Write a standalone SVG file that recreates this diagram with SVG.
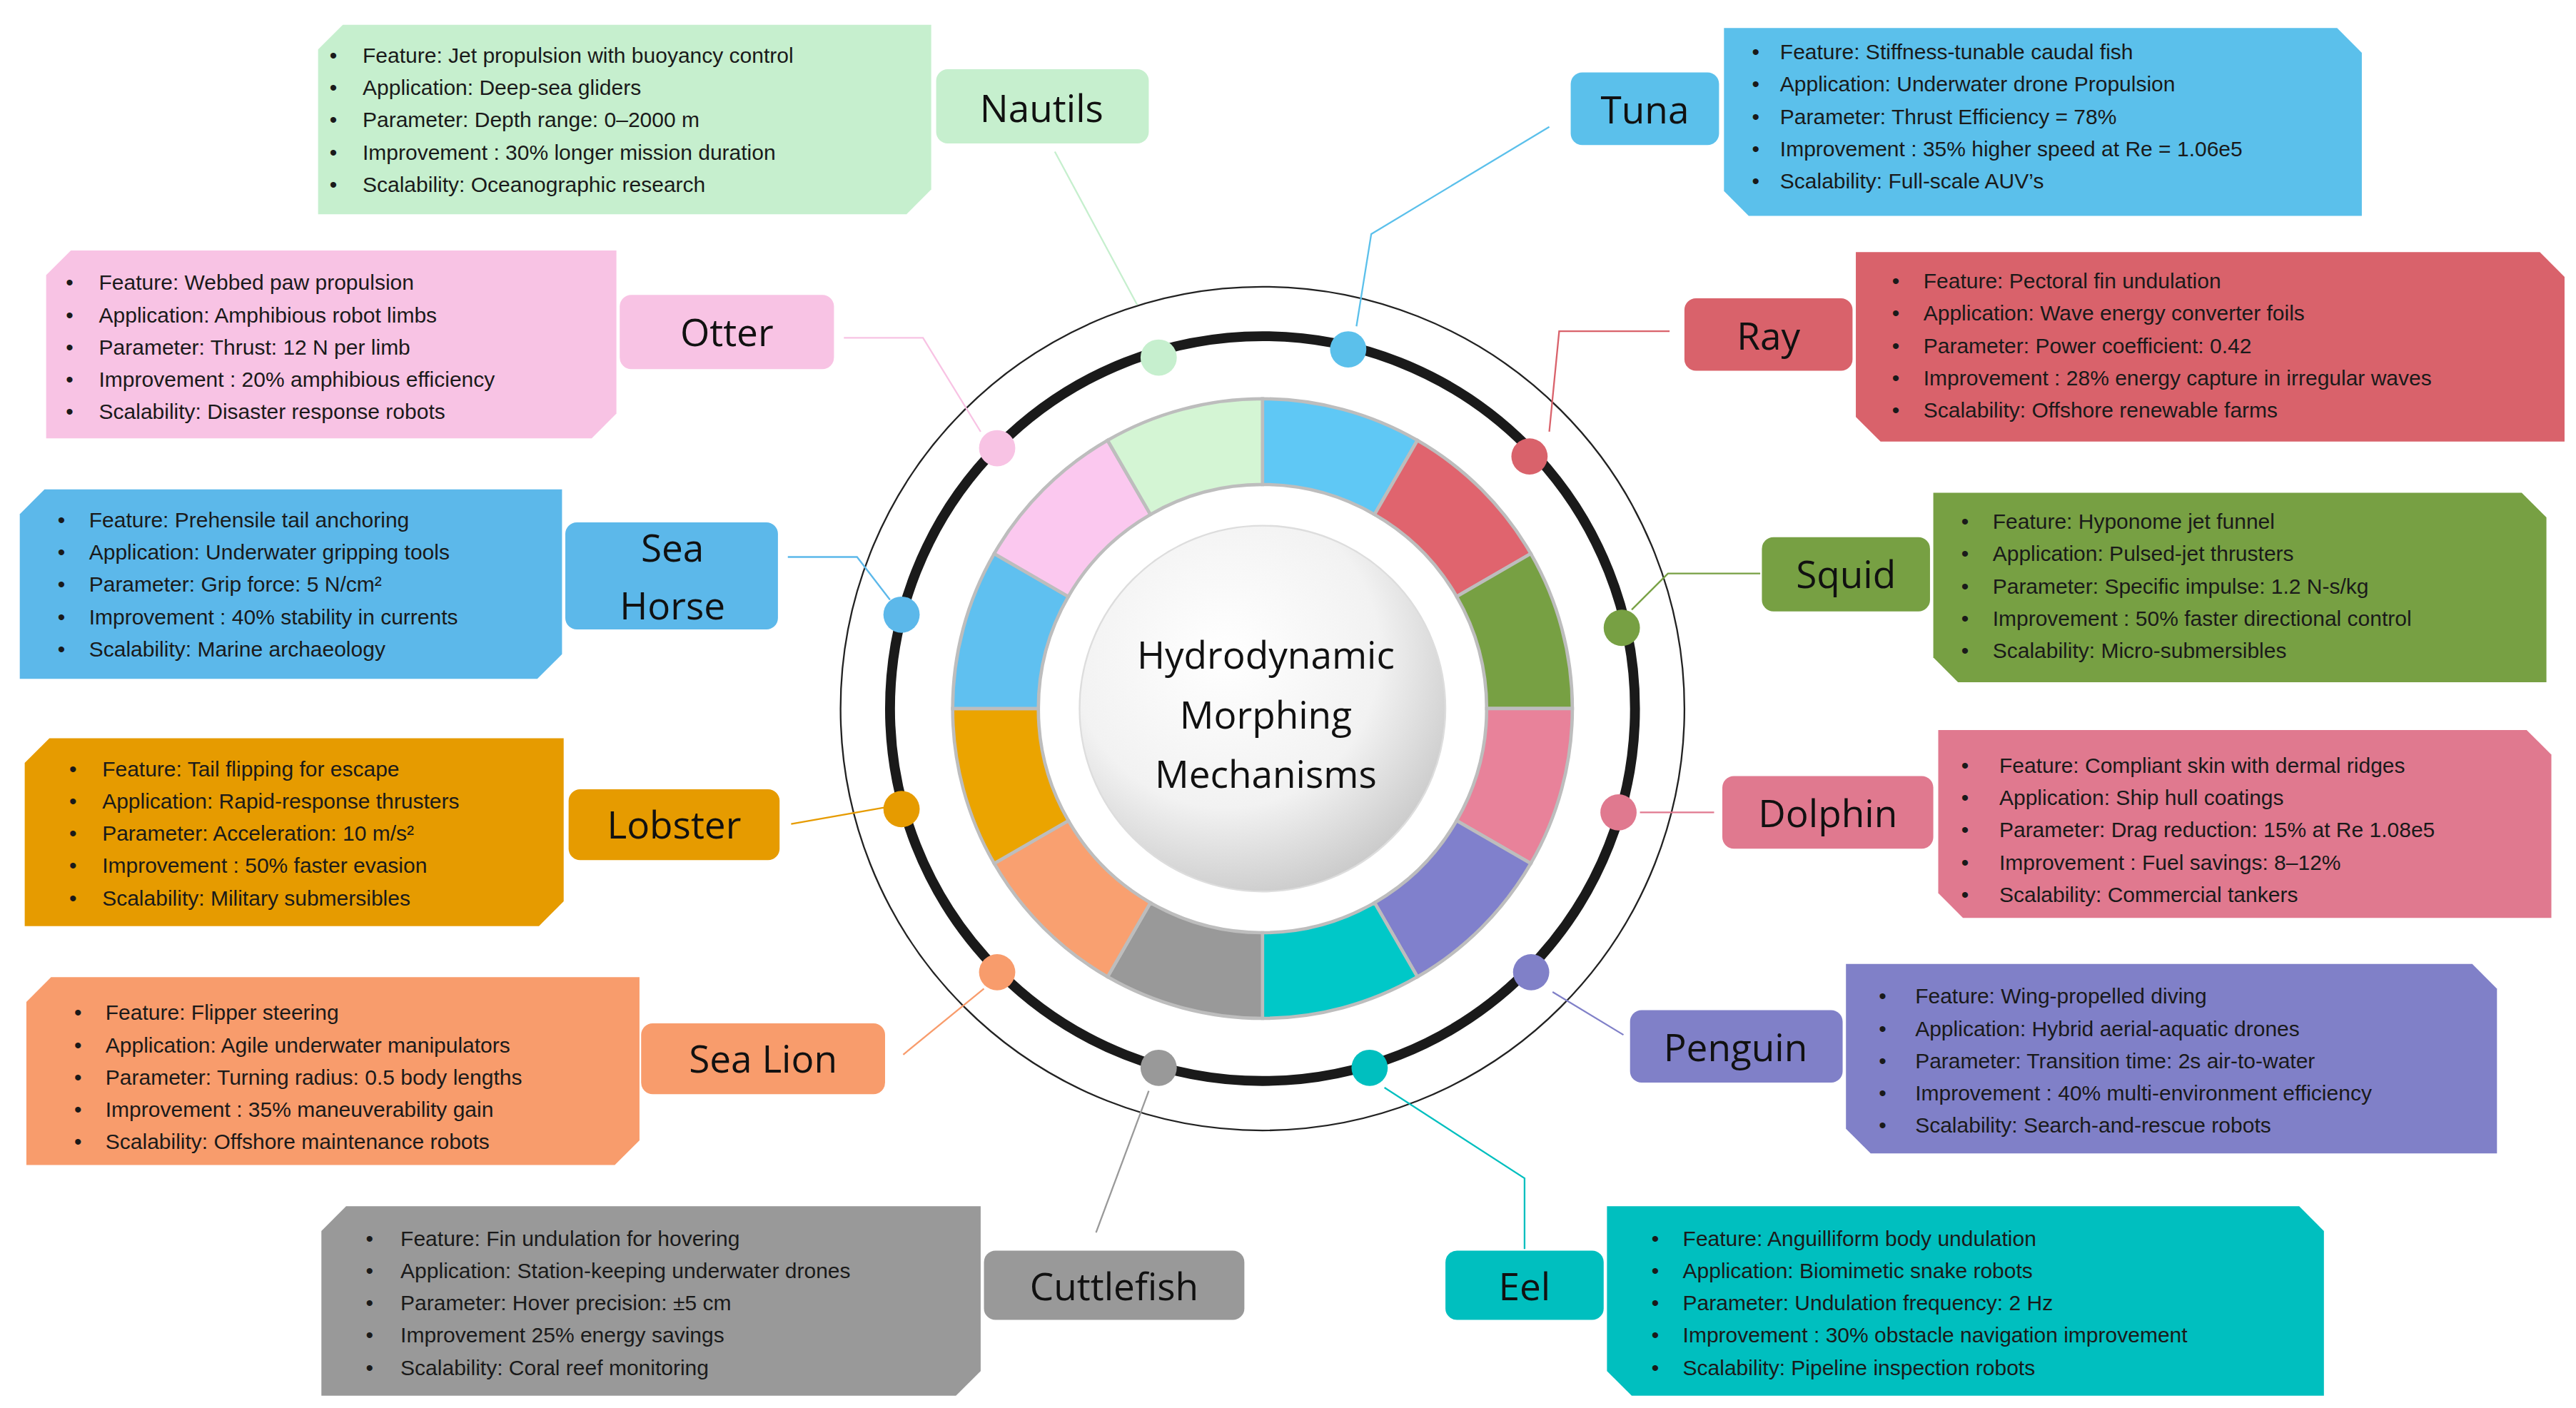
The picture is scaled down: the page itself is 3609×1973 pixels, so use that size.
<svg xmlns="http://www.w3.org/2000/svg" width="3609" height="1973" viewBox="0 0 3609 1973">
<style>
.t{font-family:"Liberation Sans",Arial,sans-serif;font-size:13px;fill:#1a1a1a}
.l{font-family:"Open Sans","Liberation Sans",sans-serif;font-size:23px;fill:#111;text-anchor:middle}
.c{font-family:"Open Sans","Liberation Sans",sans-serif;font-size:23px;fill:#111;text-anchor:middle}
.cn{fill:none;stroke-width:1}
.sg{stroke:#bdbdbd;stroke-width:2}
</style>
<defs>
<radialGradient id="cg" cx="0.4" cy="0.35" r="0.7"><stop offset="0" stop-color="#fff"/><stop offset="0.6" stop-color="#f2f2f2"/><stop offset="1" stop-color="#c8c8c8"/></radialGradient>
</defs>
<rect width="3609" height="1973" fill="#fff"/>
<g transform="scale(2.3091)">
<g id="ring">
<circle cx="766" cy="430" r="256" fill="none" stroke="#222" stroke-width="1"/>
<circle cx="766" cy="430" r="226" fill="none" stroke="#1a1a1a" stroke-width="6"/>
<path class="sg" fill="#5fc8f5" d="M766,242 A188,188 0 0 1 860,267.2 L834,312.2 A136,136 0 0 0 766,294Z"/>
<path class="sg" fill="#e0646e" d="M860,267.2 A188,188 0 0 1 928.8,336 L883.8,362 A136,136 0 0 0 834,312.2Z"/>
<path class="sg" fill="#77a043" d="M928.8,336 A188,188 0 0 1 954,430 L902,430 A136,136 0 0 0 883.8,362Z"/>
<path class="sg" fill="#e8829a" d="M954,430 A188,188 0 0 1 928.8,524 L883.8,498 A136,136 0 0 0 902,430Z"/>
<path class="sg" fill="#8080cc" d="M928.8,524 A188,188 0 0 1 860,592.8 L834,547.8 A136,136 0 0 0 883.8,498Z"/>
<path class="sg" fill="#00c8c8" d="M860,592.8 A188,188 0 0 1 766,618 L766,566 A136,136 0 0 0 834,547.8Z"/>
<path class="sg" fill="#999" d="M766,618 A188,188 0 0 1 672,592.8 L698,547.8 A136,136 0 0 0 766,566Z"/>
<path class="sg" fill="#f9a070" d="M672,592.8 A188,188 0 0 1 603.2,524 L648.2,498 A136,136 0 0 0 698,547.8Z"/>
<path class="sg" fill="#eba400" d="M603.2,524 A188,188 0 0 1 578,430 L630,430 A136,136 0 0 0 648.2,498Z"/>
<path class="sg" fill="#5fc0f0" d="M578,430 A188,188 0 0 1 603.2,336 L648.2,362 A136,136 0 0 0 630,430Z"/>
<path class="sg" fill="#fbc8ef" d="M603.2,336 A188,188 0 0 1 672,267.2 L698,312.2 A136,136 0 0 0 648.2,362Z"/>
<path class="sg" fill="#d4f5d4" d="M672,267.2 A188,188 0 0 1 766,242 L766,294 A136,136 0 0 0 698,312.2Z"/>
<circle cx="766" cy="430" r="111" fill="url(#cg)" stroke="#ddd" stroke-width="1"/>
<text class="c" x="768" y="406">Hydrodynamic</text>
<text class="c" x="768" y="442">Morphing</text>
<text class="c" x="768" y="478">Mechanisms</text>
</g>
<g id="connectors">
<polyline class="cn" stroke="#c6efce" points="640,92 690,185"/>
<polyline class="cn" stroke="#5bc0eb" points="940,77 832,142 823,198"/>
<polyline class="cn" stroke="#f8c3e4" points="512,205 560,205 595,262"/>
<polyline class="cn" stroke="#d9626b" points="1013,201 946,201 940,262"/>
<polyline class="cn" stroke="#5cb8ea" points="478,338 520,338 540,364"/>
<polyline class="cn" stroke="#77a043" points="1068,348 1012,348 990,370"/>
<polyline class="cn" stroke="#e69b00" points="480,500 537,490"/>
<polyline class="cn" stroke="#e0798f" points="1040,493 995,493"/>
<polyline class="cn" stroke="#f89c6c" points="548,640 597,600"/>
<polyline class="cn" stroke="#8080c8" points="985,628 942,602"/>
<polyline class="cn" stroke="#999" points="665,748 697,662"/>
<polyline class="cn" stroke="#00bfbf" points="925,758 925,715 840,660"/>
</g>
<g id="dots">
<circle cx="703" cy="217" r="11" fill="#c6efce"/>
<circle cx="818" cy="212" r="11" fill="#5bc0eb"/>
<circle cx="928" cy="277" r="11" fill="#d9626b"/>
<circle cx="984" cy="381" r="11" fill="#77a043"/>
<circle cx="982" cy="493" r="11" fill="#e0798f"/>
<circle cx="929" cy="590" r="11" fill="#8080c8"/>
<circle cx="831" cy="648" r="11" fill="#00bfbf"/>
<circle cx="703" cy="648" r="11" fill="#999"/>
<circle cx="605" cy="590" r="11" fill="#f89c6c"/>
<circle cx="547" cy="491" r="11" fill="#e69b00"/>
<circle cx="547" cy="373" r="11" fill="#5cb8ea"/>
<circle cx="605" cy="272" r="11" fill="#f8c3e4"/>
</g>
<g id="nautilus">
<path fill="#c6efce" d="M208,15 H565 V115 L550,130 H193 V30Z"/>
<rect x="568" y="42" width="129" height="45" rx="7" fill="#c6efce"/>
<text class="l" x="632" y="74">Nautils</text>
<text class="t"><tspan x="200" y="38">•</tspan><tspan x="200" dy="19.6">•</tspan><tspan x="200" dy="19.6">•</tspan><tspan x="200" dy="19.6">•</tspan><tspan x="200" dy="19.6">•</tspan></text>
<text class="t"><tspan x="220" y="38">Feature: Jet propulsion with buoyancy control</tspan><tspan x="220" dy="19.6">Application: Deep-sea gliders</tspan><tspan x="220" dy="19.6">Parameter: Depth range: 0–2000 m</tspan><tspan x="220" dy="19.6">Improvement : 30% longer mission duration</tspan><tspan x="220" dy="19.6">Scalability: Oceanographic research</tspan></text>
</g>
<g id="tuna">
<path fill="#5bc0eb" d="M1046,17 H1418 L1433,32 V131 H1061 L1046,116Z"/>
<rect x="953" y="44" width="90" height="44" rx="7" fill="#5bc0eb"/>
<text class="l" x="998" y="75">Tuna</text>
<text class="t"><tspan x="1063" y="36">•</tspan><tspan x="1063" dy="19.6">•</tspan><tspan x="1063" dy="19.6">•</tspan><tspan x="1063" dy="19.6">•</tspan><tspan x="1063" dy="19.6">•</tspan></text>
<text class="t"><tspan x="1080" y="36">Feature: Stiffness-tunable caudal fish</tspan><tspan x="1080" dy="19.6">Application: Underwater drone Propulsion</tspan><tspan x="1080" dy="19.6">Parameter: Thrust Efficiency = 78%</tspan><tspan x="1080" dy="19.6">Improvement : 35% higher speed at Re = 1.06e5</tspan><tspan x="1080" dy="19.6">Scalability: Full-scale AUV’s</tspan></text>
</g>
<g id="otter">
<path fill="#f8c3e4" d="M43,152 H374 V251 L359,266 H28 V167Z"/>
<rect x="376" y="179" width="130" height="45" rx="7" fill="#f8c3e4"/>
<text class="l" x="441" y="210">Otter</text>
<text class="t"><tspan x="40" y="176">•</tspan><tspan x="40" dy="19.6">•</tspan><tspan x="40" dy="19.6">•</tspan><tspan x="40" dy="19.6">•</tspan><tspan x="40" dy="19.6">•</tspan></text>
<text class="t"><tspan x="60" y="176">Feature: Webbed paw propulsion</tspan><tspan x="60" dy="19.6">Application: Amphibious robot limbs</tspan><tspan x="60" dy="19.6">Parameter: Thrust: 12 N per limb</tspan><tspan x="60" dy="19.6">Improvement : 20% amphibious efficiency</tspan><tspan x="60" dy="19.6">Scalability: Disaster response robots</tspan></text>
</g>
<g id="ray">
<path fill="#d9626b" d="M1126,153 H1541 L1556,168 V268 H1141 L1126,253Z"/>
<rect x="1022" y="181" width="102" height="44" rx="7" fill="#d9626b"/>
<text class="l" x="1073" y="212">Ray</text>
<text class="t"><tspan x="1148" y="175">•</tspan><tspan x="1148" dy="19.6">•</tspan><tspan x="1148" dy="19.6">•</tspan><tspan x="1148" dy="19.6">•</tspan><tspan x="1148" dy="19.6">•</tspan></text>
<text class="t"><tspan x="1167" y="175">Feature: Pectoral fin undulation</tspan><tspan x="1167" dy="19.6">Application: Wave energy converter foils</tspan><tspan x="1167" dy="19.6">Parameter: Power coefficient: 0.42</tspan><tspan x="1167" dy="19.6">Improvement : 28% energy capture in irregular waves</tspan><tspan x="1167" dy="19.6">Scalability: Offshore renewable farms</tspan></text>
</g>
<g id="seahorse">
<path fill="#5cb8ea" d="M27,297 H341 V397 L326,412 H12 V312Z"/>
<rect x="343" y="317" width="129" height="65" rx="7" fill="#5cb8ea"/>
<text class="l" x="408" y="341">Sea</text>
<text class="l" x="408" y="376">Horse</text>
<text class="t"><tspan x="35" y="320">•</tspan><tspan x="35" dy="19.6">•</tspan><tspan x="35" dy="19.6">•</tspan><tspan x="35" dy="19.6">•</tspan><tspan x="35" dy="19.6">•</tspan></text>
<text class="t"><tspan x="54" y="320">Feature: Prehensile tail anchoring</tspan><tspan x="54" dy="19.6">Application: Underwater gripping tools</tspan><tspan x="54" dy="19.6">Parameter: Grip force: 5 N/cm²</tspan><tspan x="54" dy="19.6">Improvement : 40% stability in currents</tspan><tspan x="54" dy="19.6">Scalability: Marine archaeology</tspan></text>
</g>
<g id="squid">
<path fill="#77a043" d="M1173,299 H1530 L1545,314 V414 H1188 L1173,399Z"/>
<rect x="1069" y="326" width="102" height="45" rx="7" fill="#77a043"/>
<text class="l" x="1120" y="357">Squid</text>
<text class="t"><tspan x="1190" y="321">•</tspan><tspan x="1190" dy="19.6">•</tspan><tspan x="1190" dy="19.6">•</tspan><tspan x="1190" dy="19.6">•</tspan><tspan x="1190" dy="19.6">•</tspan></text>
<text class="t"><tspan x="1209" y="321">Feature: Hyponome jet funnel</tspan><tspan x="1209" dy="19.6">Application: Pulsed-jet thrusters</tspan><tspan x="1209" dy="19.6">Parameter: Specific impulse: 1.2 N-s/kg</tspan><tspan x="1209" dy="19.6">Improvement : 50% faster directional control</tspan><tspan x="1209" dy="19.6">Scalability: Micro-submersibles</tspan></text>
</g>
<g id="lobster">
<path fill="#e69b00" d="M30,448 H342 V547 L327,562 H15 V463Z"/>
<rect x="345" y="479" width="128" height="43" rx="7" fill="#e69b00"/>
<text class="l" x="409" y="509">Lobster</text>
<text class="t"><tspan x="42" y="471">•</tspan><tspan x="42" dy="19.6">•</tspan><tspan x="42" dy="19.6">•</tspan><tspan x="42" dy="19.6">•</tspan><tspan x="42" dy="19.6">•</tspan></text>
<text class="t"><tspan x="62" y="471">Feature: Tail flipping for escape</tspan><tspan x="62" dy="19.6">Application: Rapid-response thrusters</tspan><tspan x="62" dy="19.6">Parameter: Acceleration: 10 m/s²</tspan><tspan x="62" dy="19.6">Improvement : 50% faster evasion</tspan><tspan x="62" dy="19.6">Scalability: Military submersibles</tspan></text>
</g>
<g id="dolphin">
<path fill="#e0798f" d="M1176,443 H1533 L1548,458 V557 H1191 L1176,542Z"/>
<rect x="1045" y="471" width="128" height="44" rx="7" fill="#e0798f"/>
<text class="l" x="1109" y="502">Dolphin</text>
<text class="t"><tspan x="1190" y="469">•</tspan><tspan x="1190" dy="19.6">•</tspan><tspan x="1190" dy="19.6">•</tspan><tspan x="1190" dy="19.6">•</tspan><tspan x="1190" dy="19.6">•</tspan></text>
<text class="t"><tspan x="1213" y="469">Feature: Compliant skin with dermal ridges</tspan><tspan x="1213" dy="19.6">Application: Ship hull coatings</tspan><tspan x="1213" dy="19.6">Parameter: Drag reduction: 15% at Re 1.08e5</tspan><tspan x="1213" dy="19.6">Improvement : Fuel savings: 8–12%</tspan><tspan x="1213" dy="19.6">Scalability: Commercial tankers</tspan></text>
</g>
<g id="sealion">
<path fill="#f89c6c" d="M31,593 H388 V692 L373,707 H16 V608Z"/>
<rect x="389" y="621" width="148" height="43" rx="7" fill="#f89c6c"/>
<text class="l" x="463" y="651">Sea Lion</text>
<text class="t"><tspan x="45" y="619">•</tspan><tspan x="45" dy="19.6">•</tspan><tspan x="45" dy="19.6">•</tspan><tspan x="45" dy="19.6">•</tspan><tspan x="45" dy="19.6">•</tspan></text>
<text class="t"><tspan x="64" y="619">Feature: Flipper steering</tspan><tspan x="64" dy="19.6">Application: Agile underwater manipulators</tspan><tspan x="64" dy="19.6">Parameter: Turning radius: 0.5 body lengths</tspan><tspan x="64" dy="19.6">Improvement : 35% maneuverability gain</tspan><tspan x="64" dy="19.6">Scalability: Offshore maintenance robots</tspan></text>
</g>
<g id="penguin">
<path fill="#8080c8" d="M1120,585 H1500 L1515,600 V700 H1135 L1120,685Z"/>
<rect x="989" y="613" width="129" height="44" rx="7" fill="#8080c8"/>
<text class="l" x="1053" y="644">Penguin</text>
<text class="t"><tspan x="1140" y="609">•</tspan><tspan x="1140" dy="19.6">•</tspan><tspan x="1140" dy="19.6">•</tspan><tspan x="1140" dy="19.6">•</tspan><tspan x="1140" dy="19.6">•</tspan></text>
<text class="t"><tspan x="1162" y="609">Feature: Wing-propelled diving</tspan><tspan x="1162" dy="19.6">Application: Hybrid aerial-aquatic drones</tspan><tspan x="1162" dy="19.6">Parameter: Transition time: 2s air-to-water</tspan><tspan x="1162" dy="19.6">Improvement : 40% multi-environment efficiency</tspan><tspan x="1162" dy="19.6">Scalability: Search-and-rescue robots</tspan></text>
</g>
<g id="cuttlefish">
<path fill="#999" d="M210,732 H595 V832 L580,847 H195 V747Z"/>
<rect x="597" y="759" width="158" height="42" rx="7" fill="#999"/>
<text class="l" x="676" y="789">Cuttlefish</text>
<text class="t"><tspan x="222" y="756">•</tspan><tspan x="222" dy="19.6">•</tspan><tspan x="222" dy="19.6">•</tspan><tspan x="222" dy="19.6">•</tspan><tspan x="222" dy="19.6">•</tspan></text>
<text class="t"><tspan x="243" y="756">Feature: Fin undulation for hovering</tspan><tspan x="243" dy="19.6">Application: Station-keeping underwater drones</tspan><tspan x="243" dy="19.6">Parameter: Hover precision: ±5 cm</tspan><tspan x="243" dy="19.6">Improvement 25% energy savings</tspan><tspan x="243" dy="19.6">Scalability: Coral reef monitoring</tspan></text>
</g>
<g id="eel">
<path fill="#00bfbf" d="M975,732 H1395 L1410,747 V847 H990 L975,832Z"/>
<rect x="877" y="759" width="96" height="42" rx="7" fill="#00bfbf"/>
<text class="l" x="925" y="789">Eel</text>
<text class="t"><tspan x="1002" y="756">•</tspan><tspan x="1002" dy="19.6">•</tspan><tspan x="1002" dy="19.6">•</tspan><tspan x="1002" dy="19.6">•</tspan><tspan x="1002" dy="19.6">•</tspan></text>
<text class="t"><tspan x="1021" y="756">Feature: Anguilliform body undulation</tspan><tspan x="1021" dy="19.6">Application: Biomimetic snake robots</tspan><tspan x="1021" dy="19.6">Parameter: Undulation frequency: 2 Hz</tspan><tspan x="1021" dy="19.6">Improvement : 30% obstacle navigation improvement</tspan><tspan x="1021" dy="19.6">Scalability: Pipeline inspection robots</tspan></text>
</g>
</g>
</svg>
